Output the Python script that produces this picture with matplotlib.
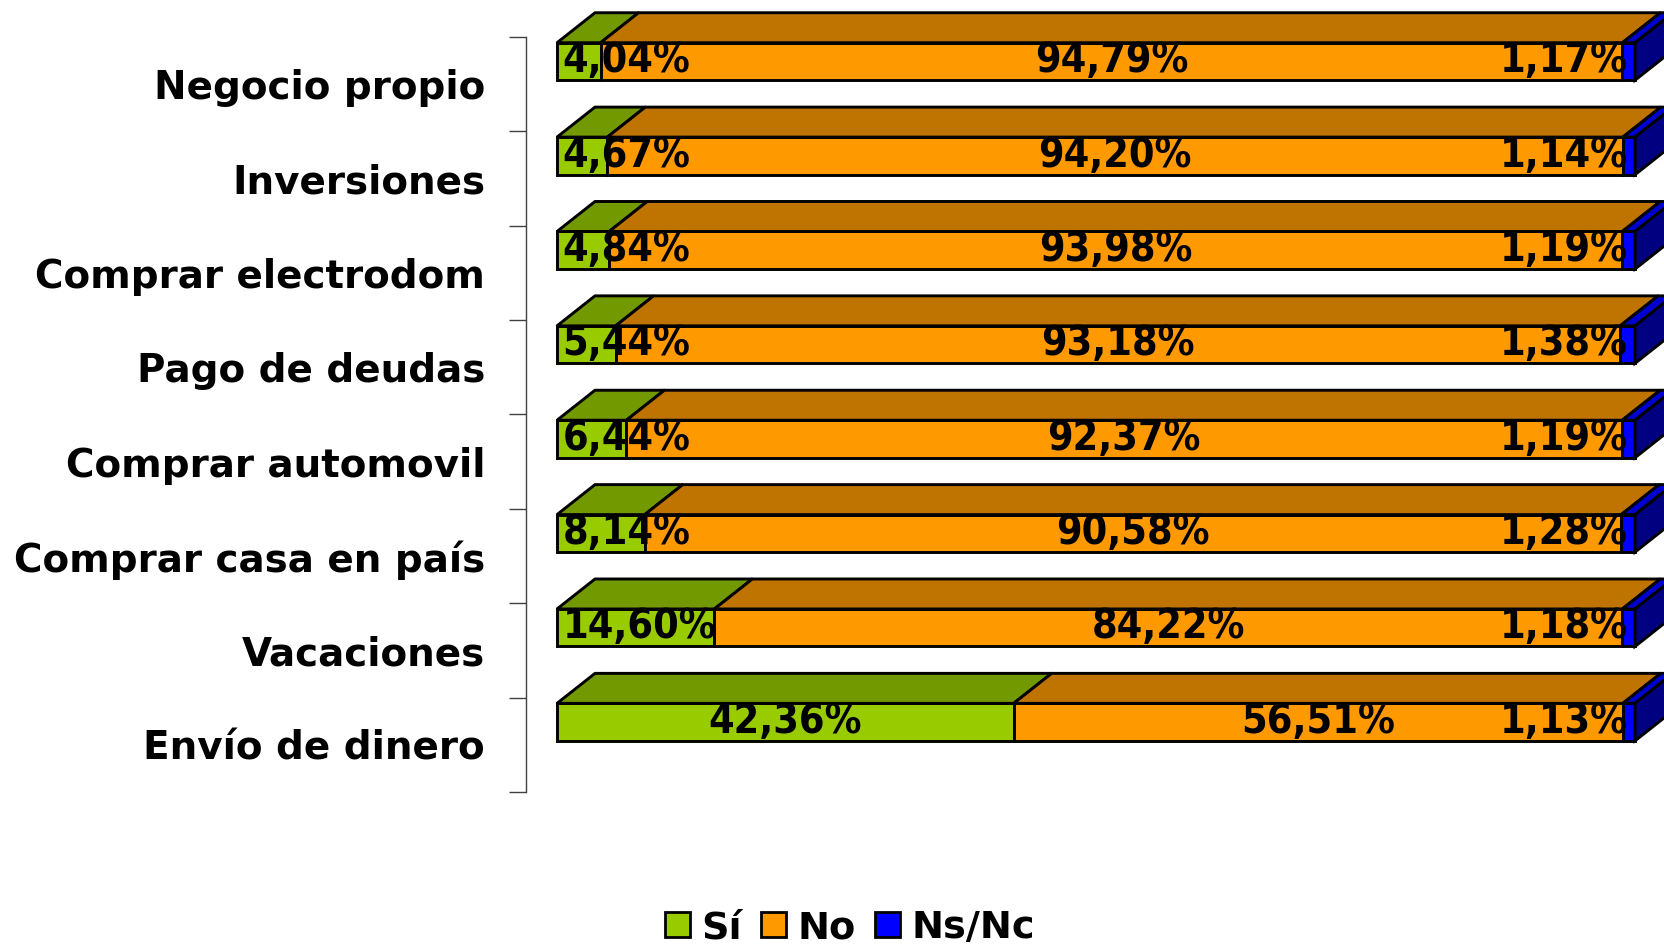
import matplotlib
matplotlib.use('Agg')
import matplotlib.pyplot as plt
from matplotlib.patches import Polygon, Patch
import numpy as np

# ---------------- data ----------------
categories = ["Negocio propio", "Inversiones", "Comprar electrodom", "Pago de deudas",
              "Comprar automovil", "Comprar casa en país", "Vacaciones", "Envío de dinero"]
si = [4.04, 4.67, 4.84, 5.44, 6.44, 8.14, 14.60, 42.36]
no = [94.79, 94.20, 93.98, 93.18, 92.37, 90.58, 84.22, 56.51]
nsnc = [1.17, 1.14, 1.19, 1.38, 1.19, 1.28, 1.18, 1.13]
series_names = ["Sí", "No", "Ns/Nc"]

# ---------------- style ----------------
front_colors = ['#99CC00', '#FF9900', '#0000FF']
top_colors = ['#739900', '#BF7300', '#0000D0']
side_color = '#000080'

W, H = 1664, 946
fig = plt.figure(figsize=(W / 100, H / 100), dpi=100)
ax_left_px, ax_top_px, ax_bottom_px = 526, 37, 792
ax = fig.add_axes([ax_left_px / W, (H - ax_bottom_px) / H,
                   (W - ax_left_px) / W, (ax_bottom_px - ax_top_px) / H])
px_per_unit = 10.78
x0_px = 557
ax.set_xlim((ax_left_px - x0_px) / px_per_unit, (W - x0_px) / px_per_unit)
n = len(categories)
ax.set_ylim(n - 0.5, -0.5)

cat_px = (ax_bottom_px - ax_top_px) / n
dx = 38 / px_per_unit
dy = 30 / cat_px
bar_h = 37.5 / cat_px
off = -22.7 / cat_px
lw = 2.1

label_font = dict(family=['Liberation Sans Narrow', 'DejaVu Sans'], fontstretch='condensed',
                  fontweight='bold', fontsize=29.5, color='black')

series = [si, no, nsnc]
for i in range(n):
    yc = i + off
    yt = yc - bar_h / 2
    left = 0.0
    for k, s in enumerate(series):
        v = s[i]
        ax.barh(yc, v, left=left, height=bar_h, color=front_colors[k], edgecolor='black',
                linewidth=lw, clip_on=False, zorder=2)
        top = Polygon([(left, yt), (left + v, yt), (left + v + dx, yt - dy), (left + dx, yt - dy)],
                      closed=True, facecolor=top_colors[k], edgecolor='black', linewidth=lw,
                      clip_on=False, zorder=2, joinstyle='miter')
        ax.add_patch(top)
        left += v
    yb = yc + bar_h / 2
    side = Polygon([(left, yt), (left, yb), (left + dx, yb - dy), (left + dx, yt - dy)],
                   closed=True, facecolor=side_color, edgecolor='black', linewidth=lw,
                   clip_on=False, zorder=2, joinstyle='miter')
    ax.add_patch(side)

# data labels
fig.canvas.draw()
renderer = fig.canvas.get_renderer()
lo_clamp = 0.5
hi_clamp = 99.35
for i in range(n):
    yc = i + off
    ybase = yc + bar_h / 2 - 8 / cat_px
    left = 0.0
    for k, s in enumerate(series):
        v = s[i]
        txt = f"{v:.2f}%".replace('.', ',')
        center = left + v / 2
        t = ax.text(center, ybase, txt, ha='center', va='baseline', zorder=5, clip_on=False,
                    **label_font)
        bb = t.get_window_extent(renderer)
        lo_px = ax.transData.transform((lo_clamp, 0))[0]
        hi_px = ax.transData.transform((hi_clamp, 0))[0]
        if bb.x0 < lo_px:
            t.set_x(lo_clamp)
            t.set_ha('left')
        elif bb.x1 > hi_px:
            t.set_x(hi_clamp)
            t.set_ha('right')
        left += v

# axes styling
ax.set_yticks(range(n))
ax.set_yticklabels(categories, fontsize=28, fontweight='bold', family='DejaVu Sans')
ax.set_yticks(np.arange(-0.5, n, 1.0), minor=True)
ax.tick_params(axis='y', which='major', length=0, pad=29.5)
ax.tick_params(axis='y', which='minor', length=12, width=1, color='#404040', direction='out')
ax.tick_params(axis='x', which='both', bottom=False, labelbottom=False)
for sp in ['top', 'right', 'bottom']:
    ax.spines[sp].set_visible(False)
ax.spines['left'].set_color('#404040')
ax.spines['left'].set_linewidth(1)
ax.patch.set_visible(False)

# legend
handles = [Patch(facecolor=c, edgecolor='black', linewidth=2) for c in front_colors]
fig.legend(handles, series_names, loc='center', bbox_to_anchor=(850 / W, (H - 928) / H),
           ncol=3, frameon=False, prop=dict(weight='bold', size=27.5, family='DejaVu Sans'),
           handlelength=0.65, handleheight=0.65, handletextpad=0.3, columnspacing=0.5,
           borderaxespad=0, borderpad=0)

fig.savefig('out.png', dpi=100)
